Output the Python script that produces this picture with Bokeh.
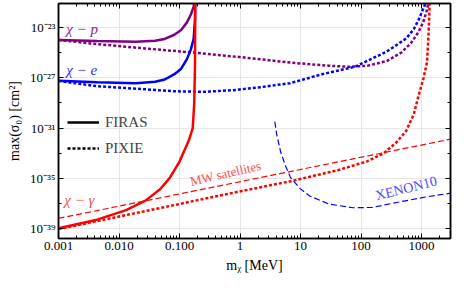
import numpy as np
from bokeh.plotting import figure
from bokeh.models import (Range1d, LogAxis, FixedTicker, CustomJSTickFormatter,
                          Legend, LegendItem, Label)
from bokeh.embed import file_html
from bokeh.resources import INLINE

# ---------------- data ----------------
# chi - p, FIRAS (solid purple)
p_firas_m = [0.001, 0.00435, 0.0189, 0.0394, 0.0569, 0.0822, 0.1064, 0.1324, 0.1535, 0.1714, 0.1790, 0.1824]
p_firas_s = [1.0e-24, 8.1e-25, 7.2e-25, 8.5e-25, 1.2e-24, 2.6e-24, 6.3e-24, 2.5e-23, 1.0e-22, 4.7e-22, 1.5e-21, 7.4e-21]
# chi - e, FIRAS (solid blue)
e_firas_m = [0.001, 0.00435, 0.0189, 0.0394, 0.0569, 0.0822, 0.1064, 0.1324, 0.1535, 0.1714, 0.1800, 0.1824]
e_firas_s = [5.6e-28, 4.3e-28, 3.6e-28, 4.7e-28, 7.2e-28, 1.9e-27, 5.2e-27, 3.0e-26, 1.7e-25, 1.3e-24, 4.2e-23, 7.4e-21]
# chi - gamma, FIRAS (solid red)
g_firas_m = [0.001, 0.00435, 0.0131, 0.0273, 0.0473, 0.0684, 0.0988, 0.1276, 0.1426, 0.1652, 0.1746, 0.1799, 0.1824]
g_firas_s = [1.1e-39, 5.2e-39, 3.0e-38, 1.7e-37, 1.3e-36, 1.05e-35, 1.95e-34, 3.1e-33, 1.05e-32, 1.0e-31, 7.9e-30, 7.9e-27, 7.4e-21]

# chi - p, PIXIE (dotted purple)
p_pixie_m = [0.001, 0.00435, 0.0273, 0.1714, 1.076, 6.76, 29.4, 61.2, 127.6, 266, 462, 667, 895, 1076, 1199, 1291, 1340]
p_pixie_s = [1.0e-24, 4.7e-25, 2.1e-25, 1.0e-25, 4.2e-26, 1.6e-26, 8.9e-27, 7.4e-27, 8.9e-27, 2.1e-26, 1.0e-25, 5.6e-25, 4.5e-24, 3.0e-23, 1.7e-22, 7.9e-22, 7.4e-21]
# chi - e, PIXIE (dotted blue)
e_pixie_m = [0.001, 0.00435, 0.0273, 0.0822, 0.2477, 0.745, 2.244, 6.76, 22.7, 79.3, 266, 555, 745, 895, 1038, 1156, 1245]
e_pixie_s = [5.6e-28, 2.1e-28, 1.2e-28, 8.3e-29, 7.6e-29, 1.0e-28, 1.8e-28, 3.7e-28, 1.9e-27, 7.4e-27, 1.2e-25, 1.3e-24, 7.4e-24, 4.2e-23, 2.3e-22, 7.9e-22, 7.4e-21]
# chi - gamma, PIXIE (dotted red)
g_pixie_m = [0.001, 0.0273, 1.076, 6.76, 42.4, 127.6, 238, 385, 555, 745, 895, 1076, 1227, 1291, 1340, 1365]
g_pixie_s = [9.3e-40, 2.5e-38, 1.0e-36, 5.8e-36, 4.6e-35, 2.3e-34, 1.0e-33, 7.4e-33, 5.9e-32, 1.3e-30, 4.2e-29, 9.3e-28, 1.8e-26, 1.3e-24, 1.0e-22, 7.4e-21]

# MW satellites (thin dashed red)
mw_m = [0.001, 3000]
mw_s = [6.6e-39, 1.3e-32]
# XENON10 (thin dashed blue)
xe_m = [3.75, 4.04, 4.68, 5.62, 6.76, 9.75, 14.1, 29.4, 73.6, 153, 385, 1156, 3000]
xe_s = [3.2e-31, 2.9e-32, 1.3e-33, 1.0e-34, 1.26e-35, 1.6e-36, 4.0e-37, 9.1e-38, 4.6e-38, 4.9e-38, 1.2e-37, 3.3e-37, 6.6e-37]

x_major = [1e-3, 1e-2, 1e-1, 1, 10, 100, 1000]
y_major = [1e-39, 1e-35, 1e-31, 1e-27, 1e-23]
y_minor = [1e-37, 1e-33, 1e-29, 1e-25, 1e-21]

PURPLE = "#800080"
BLUE = "#0000ff"
RED = "#ff0000"
SERIF = "Liberation Serif"

# ---------------- figure ----------------
p = figure(width=453, height=279, x_axis_type="log", y_axis_type="log",
           x_range=Range1d(0.001, 3000), y_range=Range1d(1.66e-40, 7.9e-22),
           output_backend="svg", toolbar_location=None,
           min_border_left=58, min_border_right=3, min_border_top=3, min_border_bottom=41)
p.background_fill_color = "white"
p.border_fill_color = "white"
p.outline_line_color = "black"
p.outline_line_width = 1.5

bottom = p.below[0]
left = p.left[0]

x_minor = [k * 10.0 ** d for d in range(-3, 4) for k in range(2, 10)]
xt = FixedTicker(ticks=x_major, minor_ticks=x_minor)
yt = FixedTicker(ticks=y_major, minor_ticks=y_minor)

xfmt = CustomJSTickFormatter(code="return tick < 1 ? tick.toFixed(3) : tick.toFixed(0);")
yfmt = CustomJSTickFormatter(code="""
const e = Math.round(Math.log10(tick));
const sup = {"-": "\u207b", "0": "\u2070", "1": "\u00b9", "2": "\u00b2", "3": "\u00b3",
             "4": "\u2074", "5": "\u2075", "6": "\u2076", "7": "\u2077", "8": "\u2078", "9": "\u2079"};
return "10" + String(e).split("").map(c => sup[c]).join("");
""")
blank = CustomJSTickFormatter(code="return '';")

bottom.ticker = xt
left.ticker = yt
bottom.formatter = xfmt
left.formatter = yfmt
bottom.axis_label = "m\u1d6a [MeV]"
left.axis_label = "max(\u03c3\u2080) [cm\u00b2]"

top = LogAxis(ticker=xt, formatter=blank)
right = LogAxis(ticker=yt, formatter=blank)
p.add_layout(top, "above")
p.add_layout(right, "right")

for ax in [bottom, left, top, right]:
    ax.axis_line_color = "black"
    ax.axis_line_width = 1.5
    ax.major_tick_in = 5
    ax.major_tick_out = 0
    ax.minor_tick_in = 3
    ax.minor_tick_out = 0
    ax.major_tick_line_color = "black"
    ax.minor_tick_line_color = "black"
    ax.major_label_text_font = SERIF
    ax.major_label_text_font_size = "13px"
    ax.major_label_text_color = "black"
    ax.major_label_standoff = 3
    ax.axis_label_text_font = SERIF
    ax.axis_label_text_font_size = "14px"
    ax.axis_label_text_font_style = "normal"
    ax.axis_label_text_color = "black"
    ax.axis_label_standoff = 5
for ax in [top, right]:
    ax.major_label_text_font_size = "0px"
    ax.major_label_standoff = 0

p.xgrid.grid_line_color = "#e6e6e6"
p.ygrid.grid_line_color = "#e6e6e6"
p.xgrid.ticker = xt
p.ygrid.ticker = yt

# ---------------- curves ----------------
W = 2.5
DOT = "3 2"
p.line(p_pixie_m, p_pixie_s, line_color=PURPLE, line_width=W, line_dash=DOT)
p.line(e_pixie_m, e_pixie_s, line_color=BLUE, line_width=W, line_dash=DOT)
p.line(g_pixie_m, g_pixie_s, line_color=RED, line_width=W, line_dash=DOT)
p.line(mw_m, mw_s, line_color=RED, line_width=1.2, line_dash="6 3")
p.line(xe_m, xe_s, line_color=BLUE, line_width=1.2, line_dash="6 3")
p.line(p_firas_m, p_firas_s, line_color=PURPLE, line_width=W)
p.line(e_firas_m, e_firas_s, line_color=BLUE, line_width=W)
p.line(g_firas_m, g_firas_s, line_color=RED, line_width=W)

# ---------------- legend ----------------
r_solid = p.line([np.nan], [np.nan], line_color="black", line_width=W)
r_dot = p.line([np.nan], [np.nan], line_color="black", line_width=W, line_dash=DOT)
legend = Legend(items=[LegendItem(label="FIRAS", renderers=[r_solid]),
                       LegendItem(label="PIXIE", renderers=[r_dot])],
                location=(9, 80), padding=0, margin=0, spacing=6,
                glyph_width=32, glyph_height=20, label_height=20, label_standoff=6,
                label_text_font=SERIF, label_text_font_size="15px",
                background_fill_alpha=0, border_line_alpha=0)
p.add_layout(legend)

# ---------------- text labels ----------------
def lab(x, y, text, color, size="15px", style="italic", angle=0.0, align="left"):
    p.add_layout(Label(x=x, y=y, text=text, text_color=color, text_font=SERIF,
                       text_font_size=size, text_font_style=style, angle=angle,
                       text_align=align, text_baseline="middle"))

lab(0.00134, 7.0e-24, "\u03c7 \u2212 p", "#8f1f8f")
lab(0.00134, 4.0e-27, "\u03c7 \u2212 e", "#2a2aff")
lab(0.00125, 1.8e-37, "\u03c7 \u2212 \u03b3", "#ff4d4d")
lab(0.577, 2.5e-35, "MW satellites", "#ff4d4d", size="13px", style="normal",
    angle=np.radians(13), align="center")
lab(555, 1.6e-36, "XENON10", "#4d4dff", size="14px", style="normal",
    angle=np.radians(14), align="center")

open("out.html", "w", encoding="utf-8").write(file_html(p, INLINE))
